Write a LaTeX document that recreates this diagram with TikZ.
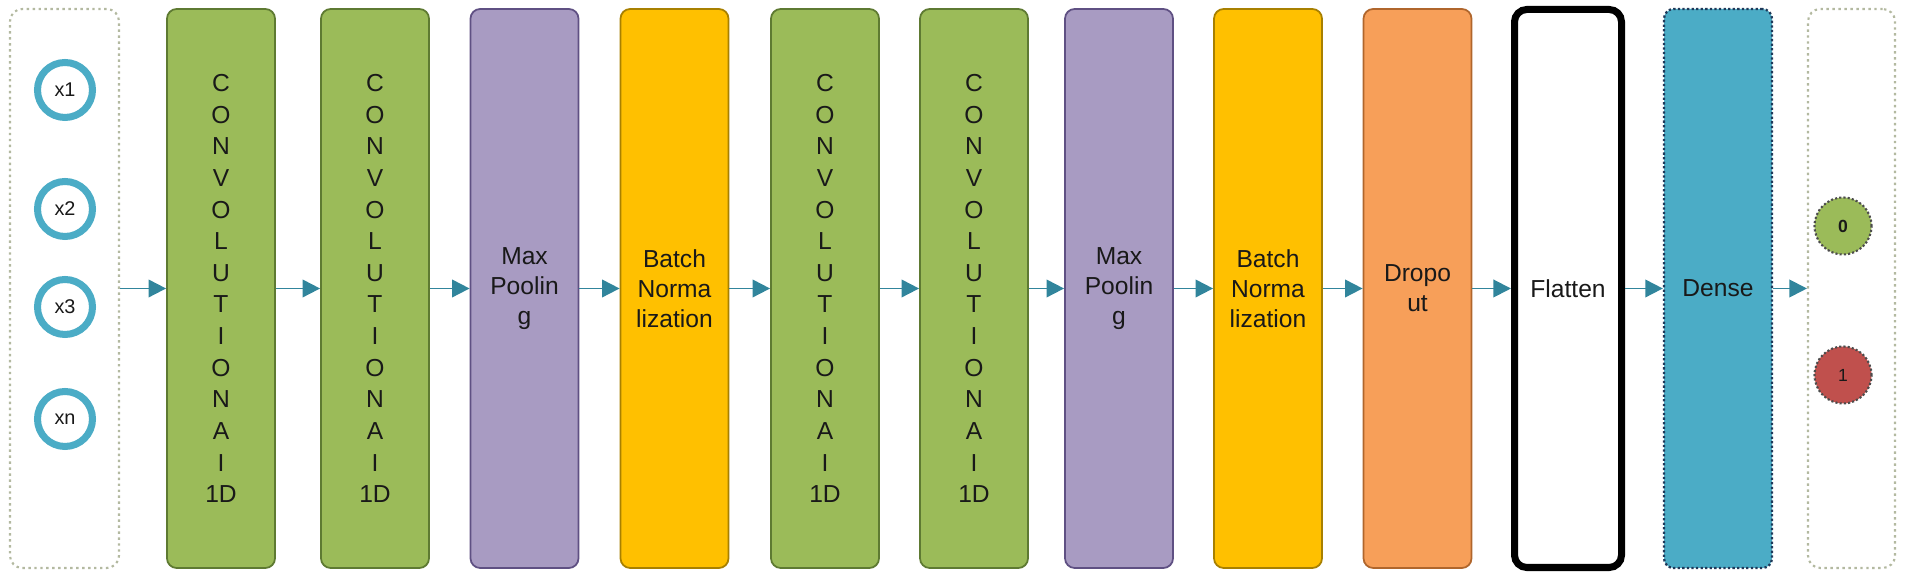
\documentclass[tikz,border=0pt]{standalone}
\usepackage{fontspec}
\setmainfont{Liberation Sans}
\usepackage{xcolor}
\usepackage{tikz}
\usetikzlibrary{arrows.meta,positioning}

\definecolor{convgreen}{HTML}{9BBB59}
\definecolor{convedge}{HTML}{5E7A32}
\definecolor{poolpurple}{HTML}{A89BC2}
\definecolor{pooledge}{HTML}{5F5083}
\definecolor{normyellow}{HTML}{FFC000}
\definecolor{normedge}{HTML}{A88000}
\definecolor{droporange}{HTML}{F79F59}
\definecolor{dropedge}{HTML}{B0662C}
\definecolor{denseblue}{HTML}{4BACC6}
\definecolor{denseedge}{HTML}{1F3A5A}
\definecolor{ringblue}{HTML}{4BACC6}
\definecolor{linkteal}{HTML}{31859C}
\definecolor{framegray}{HTML}{B3B9A0}
\definecolor{outred}{HTML}{C0504D}

\begin{document}
\begin{tikzpicture}[every node/.style={font=\fontsize{14}{17}\selectfont,text=black!90},
  layer/.style={draw,line width=1pt,rounded corners=5.5pt,minimum width=2.16cm,minimum height=11.18cm,align=center,inner sep=0pt},
  conv/.style={layer,fill=convgreen,draw=convedge,font=\fontsize{14}{18}\selectfont},
  pool/.style={layer,fill=poolpurple,draw=pooledge},
  norm/.style={layer,fill=normyellow,draw=normedge},
  frame/.style={draw=framegray,line width=1.2pt,dash pattern=on 1.4pt off 2pt,rounded corners=7pt,minimum height=11.18cm},
  innode/.style={circle,draw=ringblue,line width=4pt,fill=white,minimum size=1.1cm,inner sep=0pt,font=\fontsize{11.3}{13}\selectfont},
  outnode/.style={circle,draw=black!70,line width=1.2pt,dash pattern=on 1.2pt off 1.2pt,minimum size=1.14cm,inner sep=0pt,font=\fontsize{10}{12}\selectfont},
  link/.style={-{Triangle[length=10pt,width=10pt]},line width=1.1pt,draw=linkteal,fill=linkteal}]
  \useasboundingbox (0,0) rectangle (38.1,11.56);
  \node[frame,minimum width=2.18cm] (inp) at (1.29,5.79) {};
  \node[innode] (x1) at (1.30,9.76) {x1};
  \node[innode] (x2) at (1.30,7.38) {x2};
  \node[innode] (x3) at (1.30,5.42) {x3};
  \node[innode] (xn) at (1.30,3.18) {xn};
  \node[conv] (c1) at (4.42,5.79) {C\\O\\N\\V\\O\\L\\U\\T\\I\\O\\N\\A\\I\\1D};
  \node[conv] (c2) at (7.50,5.79) {C\\O\\N\\V\\O\\L\\U\\T\\I\\O\\N\\A\\I\\1D};
  \node[pool] (mp1) at (10.49,5.79) {Max\\Poolin\\g};
  \node[norm] (bn1) at (13.49,5.79) {Batch\\Norma\\lization};
  \node[conv] (c3) at (16.50,5.79) {C\\O\\N\\V\\O\\L\\U\\T\\I\\O\\N\\A\\I\\1D};
  \node[conv] (c4) at (19.48,5.79) {C\\O\\N\\V\\O\\L\\U\\T\\I\\O\\N\\A\\I\\1D};
  \node[pool] (mp2) at (22.38,5.79) {Max\\Poolin\\g};
  \node[norm] (bn2) at (25.36,5.79) {Batch\\Norma\\lization};
  \node[layer,fill=droporange,draw=dropedge] (drop) at (28.35,5.79) {Dropo\\ut};
  \node[layer,fill=white,draw=black,line width=4pt,rounded corners=7pt,minimum width=2.14cm,minimum height=11.16cm] (flat) at (31.36,5.79) {Flatten};
  \node[layer,fill=denseblue,draw=denseedge,line width=1.3pt,dash pattern=on 1.3pt off 1.3pt] (dense) at (34.36,5.79) {Dense};
  \node[frame,minimum width=1.74cm] (out) at (37.03,5.79) {};
  \node[outnode,fill=convgreen,font=\fontsize{10}{12}\selectfont\bfseries] (o0) at (36.86,7.04) {0};
  \node[outnode,fill=outred] (o1) at (36.86,4.06) {1};
  \draw[link] (inp) -- (c1);
  \draw[link] (c1) -- (c2);
  \draw[link] (c2) -- (mp1);
  \draw[link] (mp1) -- (bn1);
  \draw[link] (bn1) -- (c3);
  \draw[link] (c3) -- (c4);
  \draw[link] (c4) -- (mp2);
  \draw[link] (mp2) -- (bn2);
  \draw[link] (bn2) -- (drop);
  \draw[link] (drop) -- (flat);
  \draw[link] (flat) -- (dense);
  \draw[link] (dense) -- (out);
\end{tikzpicture}
\end{document}
